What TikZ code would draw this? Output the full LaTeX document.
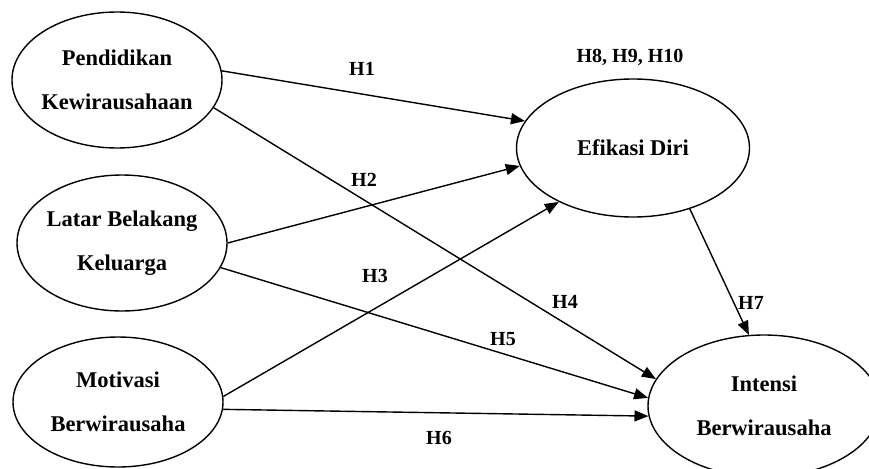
\documentclass[tikz,border=0pt]{standalone}
\usepackage{fontspec}
\setmainfont{Liberation Serif}
\usetikzlibrary{shapes}
\usetikzlibrary{arrows.meta}
\tikzset{
    varnode/.style = {ellipse, draw=black, line width=1.4pt, align=center, inner xsep=-8pt, inner ysep=0pt, font=\bfseries\fontsize{22.5}{44}\selectfont},
    hlabel/.style = {inner sep=0pt, font=\bfseries\fontsize{20}{24}\selectfont},
    edgeh/.style = {-{Triangle[length=14pt,width=11pt]}, line width=1.4pt},
}

\begin{document}
\begin{tikzpicture}[x=1pt,y=-1pt]
\useasboundingbox (0,0) rectangle (869,468);
\clip (0,0) rectangle (869,468);
\node[varnode, minimum width=210pt, minimum height=136pt] at (117, 80) (pk) {Pendidikan\\Kewirausahaan};
\node[varnode, minimum width=210pt, minimum height=136pt] at (122, 243) (lbk) {Latar Belakang\\Keluarga};
\node[varnode, minimum width=210pt, minimum height=130pt] at (118, 402) (mb) {Motivasi\\Berwirausaha};
\node[varnode, minimum width=233pt, minimum height=138pt] at (633, 148) (ed) {Efikasi Diri};
\node[varnode, minimum width=232pt, minimum height=142pt] at (764, 406) (ib) {Intensi\\Berwirausaha};
%
\draw[edgeh] (pk.5) -- (ed.166);
\draw[edgeh] (pk.-16) -- (ib.166);
\draw[edgeh] (lbk.0) -- (ed.-171);
\draw[edgeh] (lbk.-14) -- (ib.176);
\draw[edgeh] (mb.3) -- (ed.-144);
\draw[edgeh] (mb.-4) -- (ib.185);
\draw[edgeh] (ed.-47) -- (ib.102);
%
\node[hlabel] at (362, 69) (h1) {H1};
\node[hlabel] at (364, 180) (h2) {H2};
\node[hlabel] at (375, 276) (h3) {H3};
\node[hlabel] at (565, 302) (h4) {H4};
\node[hlabel] at (503, 339) (h5) {H5};
\node[hlabel] at (439, 438) (h6) {H6};
\node[hlabel] at (751, 303) (h7) {H7};
\node[hlabel] at (630, 57) (h8) {H8, H9, H10};
\end{tikzpicture}
\end{document}
